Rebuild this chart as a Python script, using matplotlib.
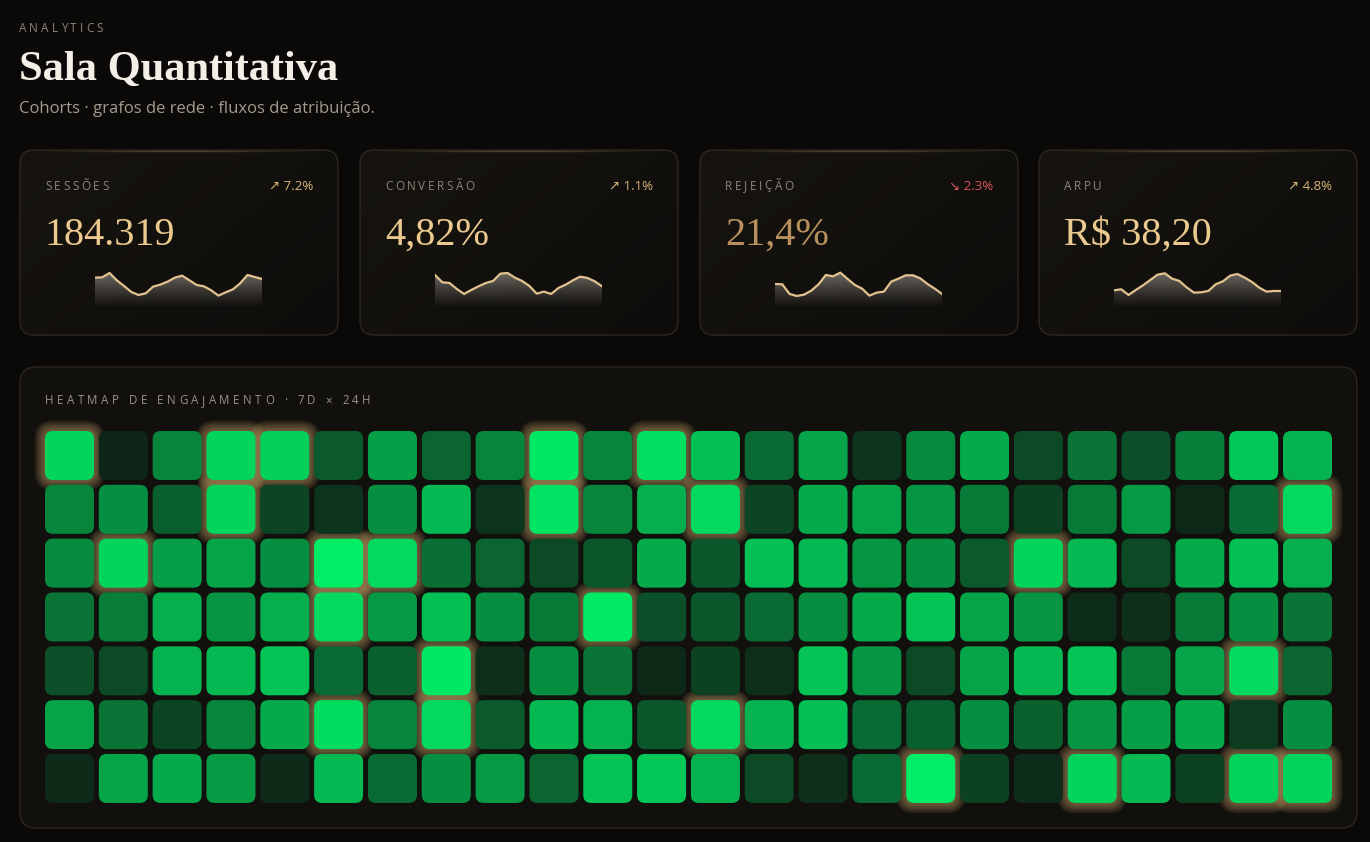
import numpy as np
import matplotlib
matplotlib.use("Agg")
import matplotlib.pyplot as plt
from matplotlib.patches import FancyBboxPatch
from matplotlib.font_manager import FontProperties
from matplotlib.colors import to_rgb

plt.rcParams["font.family"] = ["Open Sans", "DejaVu Sans"]

# === Data ===
kpi_labels = ["SESSÕES", "CONVERSÃO", "REJEIÇÃO", "ARPU"]
kpi_values = ["184.319", "4,82%", "21,4%", "R$ 38,20"]
kpi_changes = ["↗ 7.2%", "↗ 1.1%", "↘ 2.3%", "↗ 4.8%"]
kpi_up = [True, True, False, True]

spark_sessoes = [92, 93, 106, 84, 67, 49, 40, 45, 65, 71, 80, 92,
                 98, 84, 70, 66, 54, 38, 48, 57, 75, 100, 94, 88]
spark_conversao = [100, 78, 76, 58, 43, 55, 66, 76, 82, 104, 106, 92,
                   82, 67, 44, 50, 43, 61, 71, 84, 95, 91, 81, 66]
spark_rejeicao = [73, 72, 43, 37, 41, 53, 72, 100, 96, 107, 88, 70,
                  59, 38, 47, 50, 80, 89, 99, 99, 90, 73, 59, 43]
spark_arpu = [54, 57, 40, 55, 69, 85, 101, 105, 89, 82, 63, 47,
              48, 52, 72, 81, 98, 103, 92, 79, 62, 50, 52, 52]
sparks = [spark_sessoes, spark_conversao, spark_rejeicao, spark_arpu]

# engagement intensity, 7 days x 24 hours (0..1)
engagement = np.array([
    [0.88, 0.05, 0.50, 0.88, 0.86, 0.30, 0.62, 0.35, 0.50, 0.97, 0.50, 0.93,
     0.78, 0.38, 0.65, 0.12, 0.52, 0.68, 0.22, 0.42, 0.25, 0.48, 0.82, 0.72],
    [0.50, 0.55, 0.32, 0.88, 0.20, 0.12, 0.55, 0.75, 0.12, 0.95, 0.50, 0.70,
     0.90, 0.20, 0.68, 0.65, 0.58, 0.45, 0.18, 0.45, 0.60, 0.06, 0.38, 0.90],
    [0.52, 0.88, 0.62, 0.65, 0.55, 1.00, 0.90, 0.40, 0.35, 0.22, 0.28, 0.68,
     0.28, 0.78, 0.75, 0.58, 0.55, 0.30, 0.88, 0.75, 0.22, 0.68, 0.78, 0.70],
    [0.42, 0.47, 0.70, 0.58, 0.70, 0.90, 0.60, 0.78, 0.55, 0.45, 0.98, 0.25,
     0.28, 0.38, 0.55, 0.68, 0.80, 0.65, 0.58, 0.08, 0.10, 0.45, 0.55, 0.42],
    [0.25, 0.22, 0.72, 0.75, 0.80, 0.38, 0.33, 0.97, 0.10, 0.55, 0.42, 0.06,
     0.18, 0.10, 0.80, 0.58, 0.22, 0.65, 0.75, 0.80, 0.45, 0.65, 0.90, 0.35],
    [0.65, 0.42, 0.20, 0.50, 0.68, 0.92, 0.50, 0.90, 0.30, 0.75, 0.72, 0.28,
     0.90, 0.72, 0.78, 0.38, 0.32, 0.55, 0.33, 0.58, 0.62, 0.68, 0.15, 0.55],
    [0.07, 0.65, 0.68, 0.60, 0.07, 0.75, 0.38, 0.55, 0.60, 0.35, 0.80, 0.82,
     0.72, 0.22, 0.10, 0.38, 1.00, 0.18, 0.08, 0.88, 0.75, 0.18, 0.87, 0.87],
])

# === Style ===
W, H = 1370, 842
BG = "#0a0908"
CARD_EDGE = "#2c2720"
PANEL_BG = "#12100d"
MUTED = "#8c867c"
GOLD = "#ebc98f"
GOLD_DIM = "#b8905e"
UP = "#d9b47c"
DOWN = "#d9555a"
LINE = "#e2c28e"
CELL_LO = np.array(to_rgb("#0f1b13"))
CELL_HI = np.array(to_rgb("#00ee66"))
GLOW = "#c9a46a"

fig = plt.figure(figsize=(W / 100, H / 100), dpi=100, facecolor=BG)
renderer = fig.canvas.get_renderer()

ax = fig.add_axes([0, 0, 1, 1])
ax.set_xlim(0, W)
ax.set_ylim(H, 0)
ax.axis("off")
ax.set_facecolor(BG)


def text_w(s, prop):
    w, _, _ = renderer.get_text_width_height_descent(s, prop, ismath=False)
    return w


def tracked(x, y, s, size, tracking, color, family="Open Sans"):
    """Draw letter-spaced text (pixel coords)."""
    prop = FontProperties(family=[family, "DejaVu Sans"], size=size)
    widths = [text_w("a" + ch + "a", prop) - text_w("aa", prop) for ch in s]
    cx = x
    for ch, w in zip(s, widths):
        ax.text(cx, y, ch, fontproperties=prop, color=color, va="center", ha="left")
        cx += w + tracking


# === Header ===
tracked(19, 29, "ANALYTICS", 8.5, 3.0, MUTED)
ax.text(19, 80, "Sala Quantitativa", family="Liberation Serif", weight="bold",
        fontsize=30.5, color="#f4efe6", va="baseline")
ax.text(19, 113, "Cohorts · grafos de rede · fluxos de atribuição.",
        fontsize=12, color="#a39b8d", va="baseline")

# === KPI cards ===
card_x = [20, 360, 700, 1039]
card_y, card_w, card_h = 150, 318, 185

# diagonal card gradient (warm top-left -> darker bottom-right)
gy, gx = np.mgrid[0:1:60j, 0:1:100j]
t = np.clip((gx * 0.6 + gy * 0.4), 0, 1)[..., None]
card_grad = np.array(to_rgb("#17140f")) * (1 - t) + np.array(to_rgb("#0e0d0b")) * t

for i, x0 in enumerate(card_x):
    card = FancyBboxPatch((x0, card_y), card_w, card_h,
                          boxstyle="round,pad=0,rounding_size=14",
                          facecolor="none", edgecolor=CARD_EDGE, lw=1, zorder=2)
    ax.add_patch(card)
    im = ax.imshow(card_grad, extent=[x0, x0 + card_w, card_y + card_h, card_y],
                   aspect="auto", zorder=1, interpolation="bilinear")
    im.set_clip_path(card)
    # gold highlight along the top edge
    segs = np.linspace(x0 + 14, x0 + card_w - 14, 41)
    for a, b in zip(segs[:-1], segs[1:]):
        m = ((a + b) / 2 - x0) / card_w
        ax.plot([a, b], [card_y + 0.5, card_y + 0.5], color="#8a7044",
                lw=1, alpha=0.55 * np.sin(np.pi * m) ** 2, zorder=3,
                solid_capstyle="butt")
    ax.set_xlim(0, W)
    ax.set_ylim(H, 0)

    tracked(x0 + 25, 186, kpi_labels[i], 8.5, 2.6, MUTED)
    ax.text(x0 + card_w - 25, 186, kpi_changes[i], fontsize=9.5,
            color=UP if kpi_up[i] else DOWN, ha="right", va="center", zorder=3)
    ax.text(x0 + 25, 245, kpi_values[i], family="Liberation Serif", fontsize=29,
            color=GOLD if kpi_up[i] else GOLD_DIM, va="baseline", zorder=3)

    # sparkline
    vals = sparks[i]
    sx = fig.add_axes([(x0 + 75) / W, 1 - 308.3 / H, 167 / W, 40 / H])
    sx.axis("off")
    n = len(vals)
    xs = np.arange(n)
    poly = sx.fill_between(xs, 0, vals, facecolor="none", edgecolor="none")
    grad = np.zeros((100, 2, 4))
    grad[..., :3] = to_rgb("#a8a29b")
    grad[..., 3] = np.linspace(0.65, 0.0, 100)[:, None] ** 1.1
    gim = sx.imshow(grad, extent=[0, n - 1, 0, 110], origin="upper",
                    aspect="auto", interpolation="bilinear")
    gim.set_clip_path(poly.get_paths()[0], transform=sx.transData)
    sx.plot(xs, vals, color=LINE, lw=1.6, solid_joinstyle="round")
    sx.set_xlim(0, n - 1)
    sx.set_ylim(0, 120)

# === Heatmap panel ===
ax.add_patch(FancyBboxPatch((20, 367), 1337, 461,
                            boxstyle="round,pad=0,rounding_size=16",
                            facecolor=PANEL_BG, edgecolor="#2a251e", lw=1))
tracked(45, 401, "HEATMAP DE ENGAJAMENTO · 7D × 24H", 8.3, 3.5, "#9a9284")

pitch = (1283 - 45) / 23
cell = 49 / pitch
gap = 1 - cell
n_days, n_hours = engagement.shape
hx = fig.add_axes([(45 - gap * pitch / 2) / W, 1 - (431 - gap * pitch / 2 + n_days * pitch) / H,
                   n_hours * pitch / W, n_days * pitch / H])
hx.set_xlim(0, n_hours)
hx.set_ylim(n_days, 0)
hx.axis("off")
rs = 8 / pitch

# glows first
for r in range(n_days):
    for c in range(n_hours):
        v = engagement[r, c]
        if v > 0.85:
            for k in range(1, 8):
                pad = k * 1.5 / pitch
                hx.add_patch(FancyBboxPatch((c + gap / 2, r + gap / 2), cell, cell,
                                            boxstyle=f"round,pad={pad},rounding_size={rs + pad}",
                                            facecolor=GLOW, edgecolor="none",
                                            alpha=0.09, clip_on=False))

for r in range(n_days):
    for c in range(n_hours):
        v = engagement[r, c]
        col = CELL_LO + (CELL_HI - CELL_LO) * v
        hx.add_patch(FancyBboxPatch((c + gap / 2, r + gap / 2), cell, cell,
                                    boxstyle=f"round,pad=0,rounding_size={rs}",
                                    facecolor=col, edgecolor="none", clip_on=False))

fig.savefig("out.png", dpi=100, facecolor=BG)
